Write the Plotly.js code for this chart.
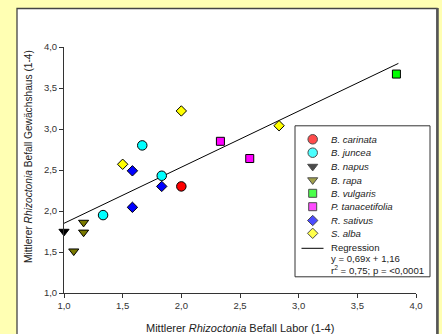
<!DOCTYPE html>
<html>
<head>
<meta charset="utf-8">
<script src="https://cdn.plot.ly/plotly-3.0.1.min.js"></script>
<style>html,body{margin:0;padding:0;background:#FFFFB3;}#chart{width:442px;height:334px;}</style>
</head>
<body>
<div id="chart"></div>
<script>
// ---- data ----
const speciesNames = ["B. carinata", "B. juncea", "B. napus", "B. rapa", "B. vulgaris", "P. tanacetifolia", "R. sativus", "S. alba"];
const speciesColors = ["#FF0000", "#00FFFF", "#000000", "#7A7A00", "#00FF00", "#FF00FF", "#0000FF", "#FFFF00"];
const speciesSymbols = ["circle", "circle", "triangle-down", "triangle-down", "square", "square", "diamond", "diamond"];

const carinataX = [2.0];                     const carinataY = [2.30];
const junceaX = [1.333, 1.667, 1.833];       const junceaY = [1.95, 2.80, 2.43];
const napusX = [1.0];                        const napusY = [1.75];
const rapaX = [1.083, 1.167, 1.167];         const rapaY = [1.51, 1.74, 1.86];
const vulgarisX = [3.833];                   const vulgarisY = [3.67];
const tanacetifoliaX = [2.333, 2.583];       const tanacetifoliaY = [2.85, 2.64];
const sativusX = [1.583, 1.583, 1.833];      const sativusY = [2.045, 2.49, 2.30];
const albaX = [1.5, 2.0, 2.833];             const albaY = [2.57, 3.22, 3.04];

const regressionX = [1.0, 3.85];
const regressionY = [1.85, 3.80];
const regressionLabels = ["Regression", "y = 0,69x + 1,16", "r<sup>2</sup> = 0,75; p = &lt;0,0001"];

const tickVals = [1.0, 1.5, 2.0, 2.5, 3.0, 3.5, 4.0];
const tickText = ["1,0", "1,5", "2,0", "2,5", "3,0", "3,5", "4,0"];

const xTitle = "Mittlerer <i>Rhizoctonia</i> Befall Labor (1-4)";
const yTitle = "Mittlerer <i>Rhizoctonia</i> Befall Gewächshaus (1-4)";

// ---- layout helpers ----
const W = 442, H = 334;
const M = {l: 64, r: 26, t: 47, b: 41};
const PW = W - M.l - M.r, PH = H - M.t - M.b;
const px = v => (v - M.l) / PW;          // pixel x -> paper
const py = v => (H - M.b - v) / PH;      // pixel y -> paper

const FONT = "'Liberation Sans', Arial, sans-serif";
const seriesX = [carinataX, junceaX, napusX, rapaX, vulgarisX, tanacetifoliaX, sativusX, albaX];
const seriesY = [carinataY, junceaY, napusY, rapaY, vulgarisY, tanacetifoliaY, sativusY, albaY];
const SYMBOL_SIZE = {"circle": 9.5, "square": 8, "diamond": 8, "triangle-down": 8.8};
const markerSize = s => SYMBOL_SIZE[s];

const traces = [];
traces.push({
  x: regressionX, y: regressionY, mode: "lines", type: "scatter",
  line: {color: "#000", width: 1}, showlegend: false, hoverinfo: "skip"
});
speciesNames.forEach((n, i) => {
  traces.push({
    x: seriesX[i], y: seriesY[i], mode: "markers", type: "scatter", name: n,
    marker: {symbol: speciesSymbols[i], color: speciesColors[i], size: markerSize(speciesSymbols[i]),
             line: {color: "#000", width: 1}},
    showlegend: false, cliponaxis: false
  });
});

// legend (drawn with pixel-scaled overlay axes)
const legRowY = [139.3, 152.7, 166.5, 180, 193.3, 206.7, 220.5, 233.3];
const legMarkX = 312.7, legTextX = 328.5;
traces.push({
  x: speciesNames.map(() => legMarkX), y: legRowY, xaxis: "x2", yaxis: "y2",
  mode: "markers", type: "scatter", showlegend: false, cliponaxis: false, hoverinfo: "skip",
  marker: {symbol: speciesSymbols, color: speciesColors,
           size: speciesSymbols.map(markerSize),
           line: {color: "#000", width: 1}}
});

const annotations = [];
speciesNames.forEach((n, i) => {
  annotations.push({xref: "paper", yref: "paper", x: px(legTextX), y: py(legRowY[i]),
    xanchor: "left", yanchor: "middle", showarrow: false, text: "<i>" + n + "</i>",
    font: {family: FONT, size: 9.6, color: "#222"}});
});
const regRowY = [247.8, 258.5, 270];
regressionLabels.forEach((t, i) => {
  annotations.push({xref: "paper", yref: "paper", x: px(legTextX), y: py(regRowY[i]),
    xanchor: "left", yanchor: "middle", showarrow: false, text: t,
    font: {family: FONT, size: 9.6, color: "#222"}});
});
annotations.push({xref: "paper", yref: "paper", x: 0.5, y: py(327.5), xanchor: "center", yanchor: "middle",
  showarrow: false, text: xTitle, font: {family: FONT, size: 11, color: "#222"}});
annotations.push({xref: "paper", yref: "paper", x: px(28), y: py(157), xanchor: "center", yanchor: "middle",
  textangle: -90, showarrow: false, text: yTitle, font: {family: FONT, size: 10.2, color: "#222"}});

const shapes = [
  {type: "rect", xref: "paper", yref: "paper", x0: px(17), x1: px(437), y0: py(8.5), y1: py(345),
   fillcolor: "#FFFFFF", line: {color: "#444", width: 1.3}, layer: "below"},
  {type: "line", xref: "paper", yref: "paper", x0: px(437.5), x1: px(437.5), y0: py(8), y1: py(345),
   line: {color: "#555", width: 2.5}, layer: "below"},
  {type: "rect", xref: "paper", yref: "paper", x0: px(295), x1: px(430), y0: py(125.8), y1: py(276.8),
   fillcolor: "#FFFFFF", line: {color: "#333", width: 1}, layer: "below"},
  {type: "line", xref: "paper", yref: "paper", x0: px(301.5), x1: px(323.5), y0: py(248.3), y1: py(248.3),
   line: {color: "#000", width: 1}, layer: "above"}
];

const axisCommon = {
  range: [1, 4], tickmode: "array", tickvals: tickVals, ticktext: tickText,
  showgrid: false, zeroline: false, showline: true, linecolor: "#333", linewidth: 1,
  ticks: "outside", ticklen: 4, tickcolor: "#333", tickwidth: 1,
  tickfont: {family: FONT, size: 9.5, color: "#333"}, fixedrange: true
};

const layout = {
  width: W, height: H, margin: M,
  paper_bgcolor: "#FFFFB3", plot_bgcolor: "rgba(0,0,0,0)",
  showlegend: false,
  xaxis: Object.assign({}, axisCommon),
  yaxis: Object.assign({}, axisCommon),
  xaxis2: {domain: [0, 1], range: [M.l, W - M.r], overlaying: "x", anchor: "y2", visible: false, fixedrange: true},
  yaxis2: {domain: [0, 1], range: [H - M.b, M.t], overlaying: "y", anchor: "x2", visible: false, fixedrange: true},
  shapes: shapes, annotations: annotations,
  font: {family: FONT}
};

Plotly.newPlot("chart", traces, layout, {staticPlot: true, displayModeBar: false});
</script>
</body>
</html>
